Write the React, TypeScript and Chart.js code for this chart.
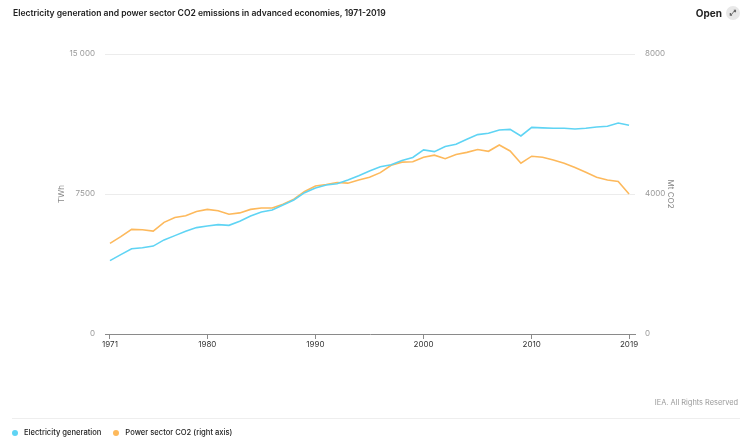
import React, { useEffect, useRef } from "react";
import { Chart, registerables } from "chart.js";

Chart.register(...registerables);

const years = [
  1971, 1972, 1973, 1974, 1975, 1976, 1977, 1978, 1979, 1980,
  1981, 1982, 1983, 1984, 1985, 1986, 1987, 1988, 1989, 1990,
  1991, 1992, 1993, 1994, 1995, 1996, 1997, 1998, 1999, 2000,
  2001, 2002, 2003, 2004, 2005, 2006, 2007, 2008, 2009, 2010,
  2011, 2012, 2013, 2014, 2015, 2016, 2017, 2018, 2019,
];

const electricityGeneration = [
  3930, 4250, 4570, 4620, 4710, 5040, 5270, 5500, 5700, 5790,
  5860, 5820, 6040, 6320, 6540, 6640, 6910, 7180, 7570, 7820,
  7980, 8050, 8250, 8480, 8730, 8960, 9070, 9290, 9460, 9860,
  9770, 10040, 10160, 10430, 10680, 10750, 10930, 10960, 10610, 11070,
  11040, 11020, 11020, 10980, 11020, 11090, 11130, 11300, 11180,
];

const powerSectorCO2 = [
  2590, 2780, 2990, 2980, 2940, 3190, 3330, 3380, 3500, 3560,
  3520, 3420, 3460, 3560, 3600, 3600, 3710, 3850, 4070, 4230,
  4270, 4330, 4310, 4400, 4480, 4610, 4820, 4910, 4920, 5050,
  5110, 5010, 5130, 5190, 5270, 5220, 5400, 5230, 4880, 5080,
  5050, 4970, 4880, 4760, 4620, 4480, 4400, 4360, 4000,
];

const xTickYears = [1971, 1980, 1990, 2000, 2010, 2019];
const leftTicks = [0, 7500, 15000];
const rightTicks = [0, 4000, 8000];

const seriesNames = ["Electricity generation", "Power sector CO2 (right axis)"];
const seriesColors = ["#5fd4f4", "#fdb95c"];

const FONT = "Inter, 'Noto Sans', sans-serif";

function fmtLeft(v: number): string {
  const s = String(v);
  return v >= 10000 ? s.replace(/\B(?=(\d{3})+(?!\d))/g, " ") : s;
}

export default function App() {
  const ref = useRef<HTMLCanvasElement | null>(null);

  useEffect(() => {
    document.body.style.margin = "0";
    const canvas = ref.current;
    if (!canvas) return;
    Chart.defaults.font.family = FONT;
    const chart = new Chart(canvas, {
      type: "line",
      data: {
        datasets: [
          {
            label: seriesNames[0],
            data: years.map((y, i) => ({ x: y, y: electricityGeneration[i] })),
            borderColor: seriesColors[0],
            backgroundColor: seriesColors[0],
            borderWidth: 1.6,
            pointRadius: 0,
            tension: 0,
            yAxisID: "y",
          },
          {
            label: seriesNames[1],
            data: years.map((y, i) => ({ x: y, y: powerSectorCO2[i] })),
            borderColor: seriesColors[1],
            backgroundColor: seriesColors[1],
            borderWidth: 1.6,
            pointRadius: 0,
            tension: 0,
            yAxisID: "y1",
          },
        ],
      },
      options: {
        animation: false,
        responsive: false,
        layout: { padding: { left: 53, right: 71, top: 54, bottom: 83 } },
        plugins: { legend: { display: false }, tooltip: { enabled: false } },
        scales: {
          x: {
            type: "linear",
            min: 1970.54,
            max: 2019.55,
            afterBuildTicks: (s: any) => {
              s.ticks = xTickYears.map((v) => ({ value: v }));
            },
            afterFit: (s: any) => {
              s.height = 26;
            },
            grid: {
              drawOnChartArea: false,
              drawTicks: true,
              tickLength: 5,
              color: "#8a8a8a",
            },
            border: { display: true, color: "#8a8a8a", width: 1 },
            ticks: {
              padding: 1,
              maxRotation: 0,
              autoSkip: false,
              color: "#333",
              font: { size: 8 },
              callback: (v: any) => String(v),
            },
          },
          y: {
            type: "linear",
            position: "left",
            min: 0,
            max: 15000,
            afterBuildTicks: (s: any) => {
              s.ticks = leftTicks.map((v) => ({ value: v }));
            },
            afterFit: (s: any) => {
              s.width = 52;
            },
            grid: {
              drawTicks: false,
              color: (c: any) => (c.tick && c.tick.value === 0 ? "rgba(0,0,0,0)" : "#ececec"),
            },
            border: { display: false },
            ticks: {
              padding: 10,
              color: "#999",
              font: { size: 8 },
              callback: (v: any) => fmtLeft(Number(v)),
            },
            title: {
              display: true,
              text: "TWh",
              color: "#888",
              font: { size: 8 },
              padding: 4,
            },
          },
          y1: {
            type: "linear",
            position: "right",
            min: 0,
            max: 8000,
            afterBuildTicks: (s: any) => {
              s.ticks = rightTicks.map((v) => ({ value: v }));
            },
            afterFit: (s: any) => {
              s.width = 44;
            },
            grid: { drawOnChartArea: false, drawTicks: false },
            border: { display: false },
            ticks: {
              padding: 10,
              color: "#999",
              font: { size: 8 },
              callback: (v: any) => String(v),
            },
            title: {
              display: true,
              text: "Mt CO2",
              color: "#888",
              font: { size: 8 },
              padding: 4,
            },
          },
        },
      },
    } as any);
    return () => chart.destroy();
  }, []);

  return (
    <div
      style={{
        position: "absolute",
        left: 0,
        top: 0,
        width: 750,
        height: 443,
        overflow: "hidden",
        background: "#fff",
        fontFamily: FONT,
      }}
    >
      <canvas ref={ref} width={750} height={443} style={{ position: "absolute", left: 0, top: 0 }} />
      <div
        style={{
          position: "absolute",
          left: 13,
          top: 8,
          fontSize: 8.55,
          fontWeight: 600,
          color: "#222",
          whiteSpace: "nowrap",
        }}
      >
        Electricity generation and power sector CO2 emissions in advanced economies, 1971-2019
      </div>
      <div
        style={{
          position: "absolute",
          right: 10,
          top: 6,
          display: "flex",
          alignItems: "center",
          gap: 4,
          fontSize: 10,
          fontWeight: 700,
          color: "#222",
        }}
      >
        <span>Open</span>
        <span
          style={{
            width: 14,
            height: 14,
            borderRadius: 7,
            background: "#e8e8e8",
            color: "#666",
            fontSize: 8,
            display: "flex",
            alignItems: "center",
            justifyContent: "center",
            fontFamily: "DejaVu Sans",
          }}
        >
          ⤢
        </span>
      </div>
      <div
        style={{
          position: "absolute",
          right: 12,
          top: 398,
          fontSize: 7.4,
          color: "#999",
          whiteSpace: "nowrap",
        }}
      >
        IEA. All Rights Reserved
      </div>
      <div
        style={{
          position: "absolute",
          left: 12,
          right: 10,
          top: 418,
          height: 1,
          background: "#eeeeee",
        }}
      />
      <div
        style={{
          position: "absolute",
          left: 12,
          top: 428,
          display: "flex",
          alignItems: "center",
          fontSize: 7.6,
          fontWeight: 500,
          color: "#222",
          whiteSpace: "nowrap",
        }}
      >
        {seriesNames.map((n, i) => (
          <span key={n} style={{ display: "flex", alignItems: "center", marginRight: 12 }}>
            <span
              style={{
                width: 6,
                height: 6,
                borderRadius: 3,
                background: seriesColors[i],
                marginRight: 6,
                display: "inline-block",
              }}
            />
            {n}
          </span>
        ))}
      </div>
    </div>
  );
}
